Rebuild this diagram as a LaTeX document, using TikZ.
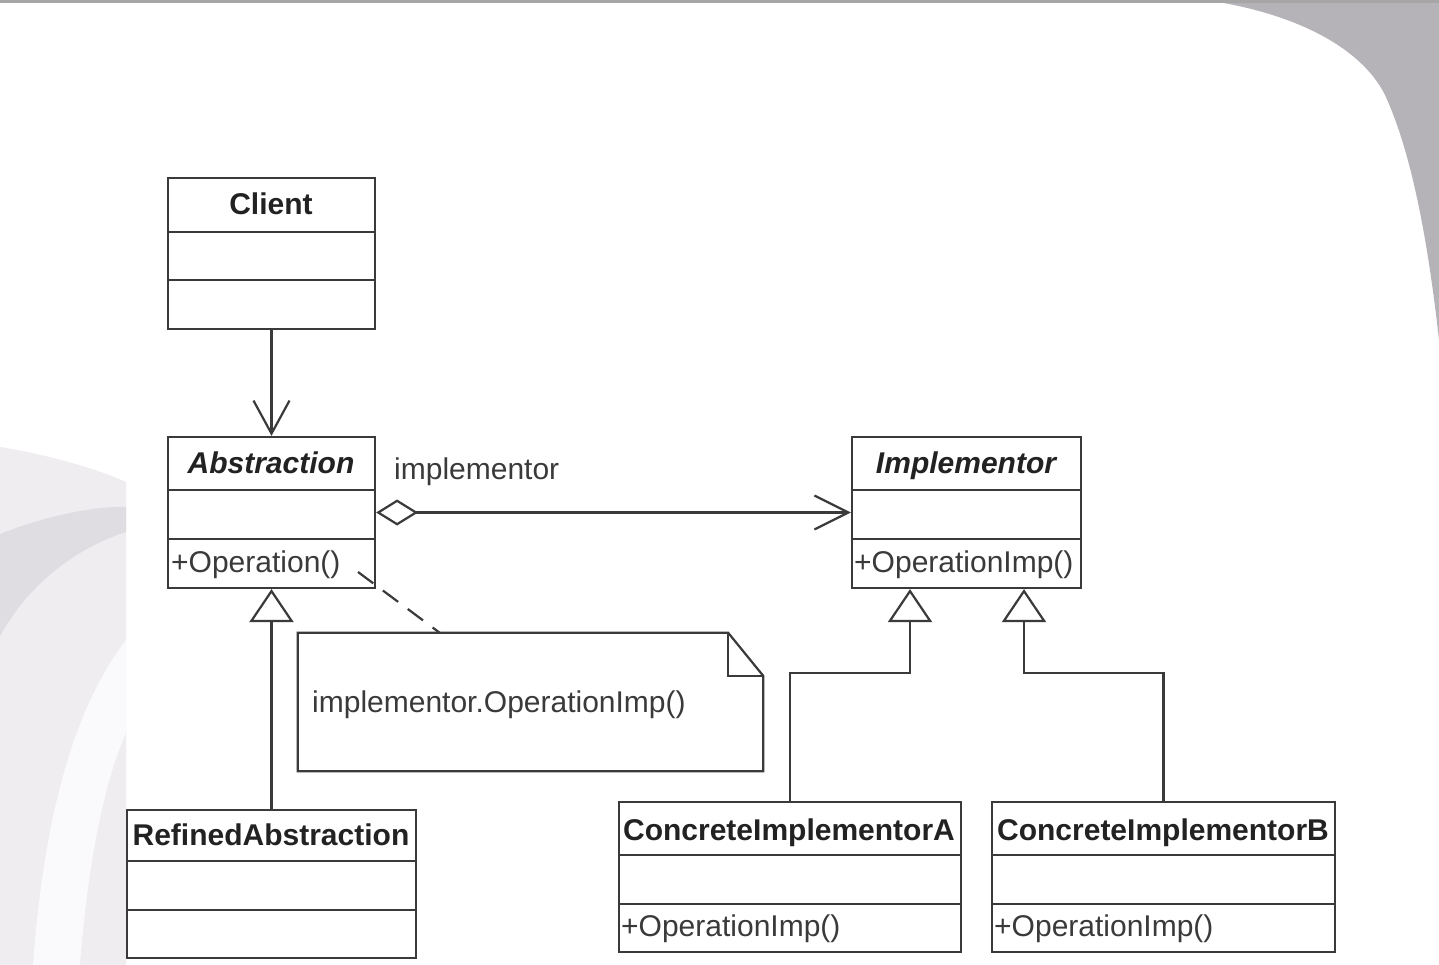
\documentclass[tikz,border=0pt]{standalone}
\usepackage{fontspec}
\setmainfont{Liberation Sans}
\usetikzlibrary{arrows.meta}
\definecolor{edge}{HTML}{3A3A3A}
\definecolor{ink}{HTML}{222222}
\definecolor{softink}{HTML}{3A3A3A}
\definecolor{panel}{HTML}{B6B3B8}
\definecolor{mist}{HTML}{EFEDF0}
\definecolor{mistdark}{HTML}{DFDDE1}
\definecolor{mistlight}{HTML}{FAF9FB}
\newcommand{\splitbox}[3]{%
  \draw[classline] ([yshift=-#2]#1.north west) -- ([yshift=-#2]#1.north east);
  \draw[classline] ([yshift=-#3]#1.north west) -- ([yshift=-#3]#1.north east);}
\begin{document}
\begin{tikzpicture}[x=1pt,y=-1pt,
  classbox/.style={draw=edge, line width=2.2pt, fill=white, inner sep=0pt},
  classline/.style={draw=edge, line width=2.2pt},
  title/.style={font=\fontsize{30}{36}\selectfont\bfseries, text=ink, inner sep=0pt, anchor=base},
  abstitle/.style={title, font=\fontsize{30}{36}\selectfont\bfseries\itshape},
  member/.style={font=\fontsize{30}{36}\selectfont, text=softink, inner sep=0pt, anchor=base west},
  link/.style={draw=edge, line width=2.2pt},
  gen/.style={link, -{Triangle[open, length=33pt, width=44pt, line width=2.2pt]}},
  assoc/.style={link, -{Straight Barb[length=33pt, width=36pt, line width=2.2pt]}},
  agg/.style={link, {Diamond[open, length=42pt, width=26pt, line width=2.2pt]}-{Straight Barb[length=34pt, width=34pt, line width=2.2pt]}},
  noteline/.style={link, dash pattern=on 19pt off 12pt}]
\useasboundingbox (0,0) rectangle (1439,965);
\fill[white] (0,0) rectangle (1439,965);

% slide backdrop
\fill[panel] (1205,0) .. controls (1290,12) and (1360,45) .. (1385,95)
  .. controls (1415,160) and (1430,260) .. (1439,340) -- (1439,0) -- cycle;
\fill[mist] (0,447) .. controls (50,455) and (100,470) .. (126,482) -- (126,965) -- (0,965) -- cycle;
\fill[mistdark] (0,534) .. controls (40,518) and (90,506) .. (126,507) -- (126,532)
  .. controls (70,550) and (25,590) .. (0,636) -- cycle;
\fill[mistlight] (126,640) .. controls (80,700) and (45,800) .. (33,965) -- (80,965)
  .. controls (88,860) and (105,780) .. (126,733) -- cycle;
\fill[gray!70] (0,0) rectangle (1439,3);

% classes
\node[classbox, minimum width=207pt, minimum height=151pt] (client) at (271.5,253.5) {};
\node[classbox, minimum width=207pt, minimum height=151pt] (abstraction) at (271.5,512.5) {};
\node[classbox, minimum width=229pt, minimum height=151pt] (implementor) at (966.5,512.5) {};
\node[classbox, minimum width=289pt, minimum height=148pt] (refined) at (271.5,884) {};
\node[classbox, minimum width=342pt, minimum height=150pt] (concA) at (790,877) {};
\node[classbox, minimum width=343pt, minimum height=150pt] (concB) at (1163.5,877) {};

\splitbox{client}{55pt}{103pt}
\splitbox{abstraction}{54pt}{103pt}
\splitbox{implementor}{54pt}{103pt}
\splitbox{refined}{52pt}{101pt}
\splitbox{concA}{54pt}{103pt}
\splitbox{concB}{54pt}{103pt}

\node[title] (clientname) at (271,215) {Client};
\node[abstitle] (abstractionname) at (271,473) {Abstraction};
\node[abstitle] (implementorname) at (966,473) {Implementor};
\node[title] (refinedname) at (271,845) {RefinedAbstraction};
\node[title] (concAname) at (789,840) {ConcreteImplementorA};
\node[title] (concBname) at (1163,840) {ConcreteImplementorB};

\node[member] (abstractionop) at (171,572) {+Operation()};
\node[member] (implementorop) at (854,572) {+OperationImp()};
\node[member] (concAop) at (621,936) {+OperationImp()};
\node[member] (concBop) at (994,936) {+OperationImp()};

% note
\node[minimum width=465pt, minimum height=138pt, inner sep=0pt] (note) at (530.5,702) {};
\draw[link, fill=white] (note.north west) -- ([xshift=-35pt]note.north east)
  -- ([yshift=-43pt]note.north east) -- (note.south east) -- (note.south west) -- cycle;
\draw[link] ([xshift=-35pt]note.north east) -- ([xshift=-35pt,yshift=-43pt]note.north east)
  -- ([yshift=-43pt]note.north east);
\node[member] (notetext) at (312,712) {implementor.OperationImp()};

% relations
\draw[assoc] (client.south) -- (abstraction.north);
\draw[agg] (abstraction.east) -- (implementor.west);
\node[member] (rolename) at (394,479) {implementor};
\coordinate (opref) at (358,572);
\coordinate (notetip) at (440,633);
\draw[noteline] (opref) -- (notetip);

\draw[gen] (refined.north) -- (abstraction.south);
\coordinate (bendA) at (910,673);
\coordinate (bendB) at (1024,673);
\draw[gen] (concA.north) |- (bendA) -- (bendA |- implementor.south);
\draw[gen] (concB.north) |- (bendB) -- (bendB |- implementor.south);
\end{tikzpicture}
\end{document}
